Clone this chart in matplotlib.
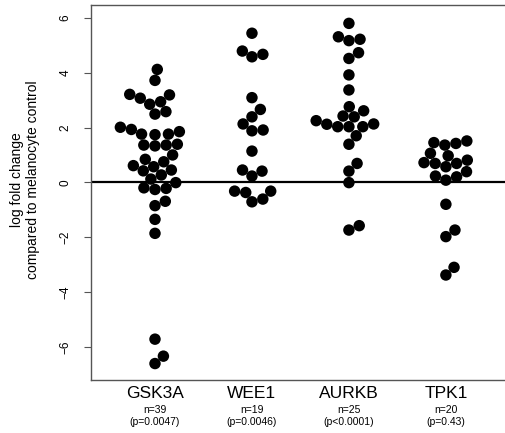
import numpy as np
import matplotlib.pyplot as plt
from matplotlib.transforms import blended_transform_factory

plt.rcParams['font.family'] = ['Liberation Sans', 'DejaVu Sans']

genes = ['GSK3A', 'WEE1', 'AURKB', 'TPK1']
n_labels = ['n=39', 'n=19', 'n=25', 'n=20']
p_labels = ['(p=0.0047)', '(p=0.0046)', '(p<0.0001)', '(p=0.43)']

# log fold change values
gsk3a = [4.12, 3.72, 3.21, 3.19, 2.85, 2.94, 3.07, 2.49, 2.58, 2.01,
         1.85, 1.76, 1.74, 1.76, 1.93, 1.36, 1.33, 1.36, 1.39, 1.00,
         0.75, 0.84, 0.45, 0.61, 0.42, 0.57, 0.27, 0.12, -0.01, -0.20,
         -0.26, -0.22, -0.85, -0.69, -1.35, -1.86, -5.72, -6.34, -6.61]
wee1 = [5.44, 4.79, 4.58, 4.67, 3.09, 2.66, 2.39, 2.13, 1.88, 1.91,
        1.14, 0.45, 0.41, 0.23, -0.32, -0.37, -0.32, -0.71, -0.61]
aurkb = [5.80, 5.31, 5.17, 5.22, 4.52, 4.73, 3.92, 3.37, 2.76, 2.61,
         2.42, 2.39, 2.25, 2.12, 2.03, 2.03, 2.03, 2.13, 1.70, 1.39,
         0.69, 0.41, -0.01, -1.74, -1.58]
tpk1 = [1.45, 1.36, 1.42, 1.51, 1.06, 0.97, 0.72, 0.69, 0.57, 0.69,
        0.81, 0.23, 0.08, 0.20, 0.39, -0.80, -1.98, -1.74, -3.38, -3.10]
groups = [gsk3a, wee1, aurkb, tpk1]


def swarm(v, d):
    # beeswarm "swarm" placement (ascending priority), everything in pixels
    v = np.asarray(v, float)
    off = np.zeros(len(v))
    done = []
    for i in np.argsort(v, kind='stable'):
        near = [j for j in done if abs(v[i] - v[j]) < d]
        if near:
            near.sort(key=lambda j: abs(off[j]))
            dx = [np.sqrt(d**2 - (v[i] - v[j])**2) for j in near]
            cand = [0.0] + [off[j] + s for j, s in zip(near, dx)] \
                + [off[j] - s for j, s in zip(near, dx)]
            good = []
            for c in cand:
                bad = any((c - off[j])**2 + (v[i] - v[j])**2 < 0.999 * d**2
                          for j in near)
                good.append(np.inf if bad else c)
            off[i] = good[int(np.argmin(np.abs(good)))]
        done.append(i)
    return off


fig = plt.figure(figsize=(5.06, 4.33), dpi=100)
ax = fig.add_axes([91/506, 53/433, 415/506, 375/433])
ax.set_xlim(0.34, 4.62)
ax.set_ylim(-7.21, 6.47)

ax.axhline(0, color='black', lw=1.6, zorder=1)

fig.canvas.draw()
px_per_x = ax.transData.transform((1, 0))[0] - ax.transData.transform((0, 0))[0]
for k, vals in enumerate(groups):
    ypix = ax.transData.transform(np.column_stack([np.zeros(len(vals)), vals]))[:, 1]
    xoff = swarm(ypix, 11.2) / px_per_x
    ax.scatter(k + 1 + xoff, vals, s=68, color='black', edgecolors='none', zorder=3)

for side in ['left', 'top', 'bottom']:
    ax.spines[side].set_color('#555555')
    ax.spines[side].set_linewidth(1.0)
ax.spines['right'].set_visible(False)

ax.set_yticks([-6, -4, -2, 0, 2, 4, 6])
ax.tick_params(axis='y', length=5, width=0.8, color='#555555', pad=9, labelsize=8.5)
for lab in ax.get_yticklabels():
    lab.set_rotation(90)
    lab.set_va('center')
ax.set_xticks([])

tr = blended_transform_factory(ax.transData, ax.transAxes)
for k in range(4):
    ax.annotate(genes[k], (k + 1, 0), xycoords=tr, xytext=(0, -10), textcoords='offset points',
                ha='center', va='center', fontsize=12.5)
    ax.annotate(n_labels[k], (k + 1, 0), xycoords=tr, xytext=(0, -21.6), textcoords='offset points',
                ha='center', va='center', fontsize=7.5)
    ax.annotate(p_labels[k], (k + 1, 0), xycoords=tr, xytext=(0, -30.2), textcoords='offset points',
                ha='center', va='center', fontsize=7.5)

fig.text(25/506, 1 - 180/433, 'log fold change\ncompared to melanocyte control',
         rotation=90, ha='center', va='center', fontsize=10, linespacing=1.1)

fig.savefig('out.png', dpi=100)
